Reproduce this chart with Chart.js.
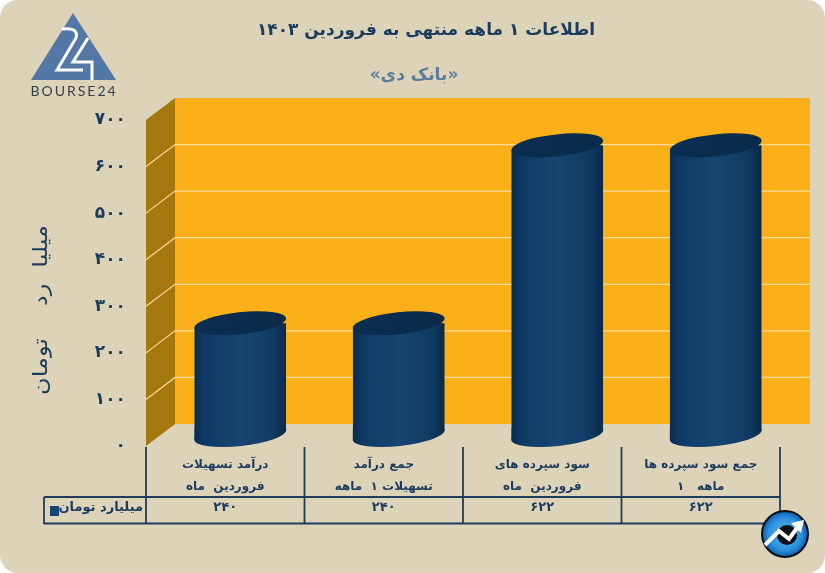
<!DOCTYPE html>
<html lang="fa">
<head>
<meta charset="utf-8">
<style>
  html, body { margin: 0; padding: 0; background: #fff; }
  canvas { display: block; }
</style>
<script src="https://cdn.jsdelivr.net/npm/chart.js@4"></script>
</head>
<body>
<canvas id="c" width="825" height="573"></canvas>
<script>
// ----------------------
// Data
// ----------------------
const categories = [
  ["درآمد تسهیلات", "فروردین  ماه"],
  ["جمع درآمد", "تسهیلات ۱  ماهه"],
  ["سود سپرده های", "فروردین  ماه"],
  ["جمع سود سپرده ها", "۱   ماهه"]
];
const values = [240, 240, 622, 622];
const seriesName = "میلیارد تومان";
const axisTitle = "میلیا رد  تومان";
const chartTitle = "اطلاعات ۱ ماهه منتهی به فروردین ۱۴۰۳";
const chartSubtitle = "«بانک دی»";
const yTicks = [0, 100, 200, 300, 400, 500, 600, 700];

// ----------------------
// Colours
// ----------------------
const pageBg = "#ddd3b8";
const ink = "#1b3c5e";
const wallBack = "#fbb01a";
const wallSide = "#a5770f";
const gridLine = "#fbdc98";

// depth of the 3d box, and where the bars stand inside it
const depth = { x: 29, y: -22 };
const barShift = { x: 15, y: -11 };
const tilt = -0.107;
const capRy = 11;

const faNum = v => String(v).replace(/\d/g, d => "۰۱۲۳۴۵۶۷۸۹"[d]);

function barGradient(ctx, left, right) {
  const g = ctx.createLinearGradient(left, 0, right, 0);
  g.addColorStop(0, "#0a2c50");
  g.addColorStop(0.12, "#0f3a66");
  g.addColorStop(0.5, "#164572");
  g.addColorStop(0.85, "#103a63");
  g.addColorStop(1, "#0a2947");
  return g;
}

// ----------------------
// Background, walls, grid
// ----------------------
const boxPlugin = {
  id: "box",
  beforeDraw(chart) {
    const { ctx, width, height, chartArea: a, scales: { y } } = chart;
    ctx.save();
    ctx.fillStyle = "#fff";
    ctx.fillRect(0, 0, width, height);
    ctx.fillStyle = pageBg;
    ctx.beginPath();
    ctx.roundRect(0, 0, width, height, 18);
    ctx.fill();

    const top = y.getPixelForValue(700), bottom = y.getPixelForValue(0);
    // back wall
    ctx.fillStyle = wallBack;
    ctx.fillRect(a.left + depth.x, top + depth.y, a.right + 30 - a.left - depth.x, bottom - top);
    // side wall
    ctx.fillStyle = wallSide;
    ctx.beginPath();
    ctx.moveTo(a.left, top);
    ctx.lineTo(a.left + depth.x, top + depth.y);
    ctx.lineTo(a.left + depth.x, bottom + depth.y);
    ctx.lineTo(a.left, bottom);
    ctx.closePath();
    ctx.fill();
    // grid lines, bent round the corner of the box
    ctx.strokeStyle = gridLine;
    ctx.lineWidth = 1.2;
    yTicks.slice(1, -1).forEach(t => {
      const py = y.getPixelForValue(t);
      ctx.beginPath();
      ctx.moveTo(a.left, py);
      ctx.lineTo(a.left + depth.x, py + depth.y);
      ctx.lineTo(a.right + 30, py + depth.y);
      ctx.stroke();
    });
    ctx.restore();
  },

  // ----------------------
  // Cylinders: the library draws the body, caps go on by hand
  // ----------------------
  beforeDatasetDraw(chart, args) {
    const { ctx } = chart;
    const bars = chart.getDatasetMeta(args.index).data;
    ctx.save();
    ctx.translate(barShift.x, barShift.y);
    ctx.beginPath();
    bars.forEach(b => {
      const r = b.width / 2, e = r * Math.tan(-tilt);
      ctx.moveTo(b.x - r, b.y + e);
      ctx.lineTo(b.x + r, b.y - e);
      ctx.lineTo(b.x + r, b.base - e);
      ctx.lineTo(b.x - r, b.base - e);
      ctx.closePath();
    });
    ctx.clip();
  },
  afterDatasetDraw(chart, args) {
    const { ctx } = chart;
    ctx.restore();
    ctx.save();
    ctx.translate(barShift.x, barShift.y);
    chart.getDatasetMeta(args.index).data.forEach(b => {
      const r = b.width / 2;
      const rx = r / Math.cos(tilt);
      const e = r * Math.tan(-tilt);
      // bottom cap, with the wedge that joins it to the body
      ctx.fillStyle = barGradient(ctx, b.x - r, b.x + r);
      ctx.beginPath();
      ctx.moveTo(b.x - r, b.base - e - 1);
      ctx.lineTo(b.x + r, b.base - e - 1);
      ctx.lineTo(b.x + r, b.base - e);
      ctx.lineTo(b.x - r, b.base + e);
      ctx.closePath();
      ctx.fill();
      ctx.beginPath();
      ctx.ellipse(b.x, b.base, rx, capRy, tilt, 0, Math.PI * 2);
      ctx.fill();
      // top cap
      const g = ctx.createLinearGradient(b.x - r, 0, b.x + r, 0);
      g.addColorStop(0, "#0b2d50");
      g.addColorStop(1, "#0a2a48");
      ctx.fillStyle = g;
      ctx.beginPath();
      ctx.ellipse(b.x, b.y, rx, capRy, tilt, 0, Math.PI * 2);
      ctx.fill();
    });
    ctx.restore();
  },

  // ----------------------
  // Titles, data table, logo and badge
  // ----------------------
  afterDraw(chart) {
    const { ctx, scales: { x } } = chart;
    ctx.save();
    ctx.textAlign = "center";
    ctx.textBaseline = "middle";

    ctx.fillStyle = ink;
    ctx.font = "bold 17px 'DejaVu Sans'";
    ctx.fillText(chartTitle, 426, 31);
    ctx.fillStyle = "#5b7c9c";
    ctx.font = "bold 17px 'DejaVu Sans'";
    ctx.fillText(chartSubtitle, 414, 76);

    // axis title, stretched out like the original
    ctx.save();
    ctx.translate(42, 310);
    ctx.rotate(-Math.PI / 2);
    ctx.scale(1.2, 1);
    ctx.fillStyle = ink;
    ctx.font = "20px 'DejaVu Sans'";
    ctx.letterSpacing = "7px";
    ctx.fillText(axisTitle, 0, 0);
    ctx.restore();

    // table
    const half = (x.getPixelForValue(1) - x.getPixelForValue(0)) / 2;
    const edges = categories.map((_, i) => x.getPixelForValue(i) - half);
    edges.push(x.getPixelForValue(categories.length - 1) + half);
    ctx.strokeStyle = "#1f3c59";
    ctx.lineWidth = 1.8;
    ctx.beginPath();
    edges.forEach(e => { ctx.moveTo(e, 447); ctx.lineTo(e, 524); });
    ctx.moveTo(44, 497); ctx.lineTo(edges[edges.length - 1], 497);
    ctx.moveTo(44, 523.5); ctx.lineTo(edges[edges.length - 1], 523.5);
    ctx.moveTo(44, 497); ctx.lineTo(44, 524);
    ctx.stroke();

    ctx.fillStyle = ink;
    ctx.font = "bold 13px 'DejaVu Sans'";
    values.forEach((v, i) => ctx.fillText(faNum(v), x.getPixelForValue(i), 508));
    ctx.textAlign = "right";
    ctx.fillText(seriesName, 143, 508);
    ctx.fillStyle = "#14447a";
    ctx.fillRect(50, 506, 9, 10);

    drawLogo(ctx);
    drawBadge(ctx, 785, 534, 23);
    ctx.restore();
  }
};

function drawLogo(ctx) {
  ctx.save();
  ctx.fillStyle = "#5377a6";
  ctx.beginPath();
  ctx.moveTo(73, 13);
  ctx.lineTo(116, 80);
  ctx.lineTo(31, 80);
  ctx.closePath();
  ctx.fill();
  ctx.strokeStyle = "#fff";
  ctx.lineWidth = 3;
  ctx.lineJoin = "miter";
  ctx.beginPath();
  ctx.moveTo(62, 29);
  ctx.quadraticCurveTo(79, 27, 76, 38);
  ctx.lineTo(57, 70);
  ctx.lineTo(83, 70);
  ctx.stroke();
  ctx.beginPath();
  ctx.moveTo(88, 38);
  ctx.lineTo(73, 62);
  ctx.lineTo(92, 62);
  ctx.lineTo(92, 80);
  ctx.stroke();
  ctx.fillStyle = "#333f4d";
  ctx.font = "14px 'Lato'";
  ctx.letterSpacing = "2px";
  ctx.textAlign = "center";
  ctx.fillText("BOURSE24", 74, 91);
  ctx.restore();
}

function drawBadge(ctx, cx, cy, r) {
  ctx.save();
  const g = ctx.createRadialGradient(cx, cy, 2, cx, cy, r);
  g.addColorStop(0, "#5db4ea");
  g.addColorStop(0.7, "#2a8fdc");
  g.addColorStop(1, "#0c5aa8");
  ctx.fillStyle = g;
  ctx.strokeStyle = "#0a0f14";
  ctx.lineWidth = 2;
  ctx.beginPath();
  ctx.arc(cx, cy, r, 0, Math.PI * 2);
  ctx.fill();
  ctx.stroke();
  // dark blob behind the arrow
  ctx.fillStyle = "#0d1116";
  ctx.beginPath();
  ctx.arc(cx + 2, cy + 1, 10, 0, Math.PI * 2);
  ctx.fill();
  ctx.lineCap = "butt";
  ctx.lineJoin = "miter";
  ctx.strokeStyle = "#fff";
  ctx.lineWidth = 4;
  ctx.beginPath();
  ctx.moveTo(cx - 20, cy + 11);
  ctx.lineTo(cx - 6, cy - 3);
  ctx.lineTo(cx + 4, cy + 5);
  ctx.lineTo(cx + 12, cy - 6);
  ctx.stroke();
  ctx.fillStyle = "#fff";
  ctx.beginPath();
  ctx.moveTo(cx + 6, cy - 11);
  ctx.lineTo(cx + 19, cy - 14);
  ctx.lineTo(cx + 16, cy - 1);
  ctx.closePath();
  ctx.fill();
  ctx.restore();
}

// ----------------------
// Chart
// ----------------------
new Chart(document.getElementById("c"), {
  type: "bar",
  data: {
    labels: categories,
    datasets: [{
      label: seriesName,
      data: values,
      barPercentage: 0.58,
      categoryPercentage: 1,
      borderWidth: 0,
      backgroundColor(c) {
        const x = c.chart.scales.x.getPixelForValue(c.dataIndex);
        if (!Number.isFinite(x)) return "#164572";
        return barGradient(c.chart.ctx, x - 46, x + 46);
      }
    }]
  },
  options: {
    responsive: false,
    animation: false,
    events: [],
    layout: { padding: { top: 120, right: 45 } },
    plugins: {
      legend: { display: false },
      title: { display: false },
      tooltip: { enabled: false }
    },
    scales: {
      x: {
        afterFit(s) { s.height = 127; },
        grid: { display: false },
        border: { display: false },
        ticks: {
          color: ink,
          padding: 0,
          maxRotation: 0,
          autoSkip: false,
          font: { family: "'DejaVu Sans'", size: 12, weight: "bold", lineHeight: 1.8 }
        }
      },
      y: {
        min: 0,
        max: 700,
        afterFit(s) { s.width = 146; },
        grid: { display: false },
        border: { display: false },
        afterBuildTicks(s) { s.ticks = yTicks.map(value => ({ value })); },
        ticks: {
          color: ink,
          padding: 12,
          font: { family: "'DejaVu Sans'", size: 17, weight: "bold" },
          callback: v => faNum(v)
        }
      }
    }
  },
  plugins: [boxPlugin]
});
</script>
</body>
</html>
